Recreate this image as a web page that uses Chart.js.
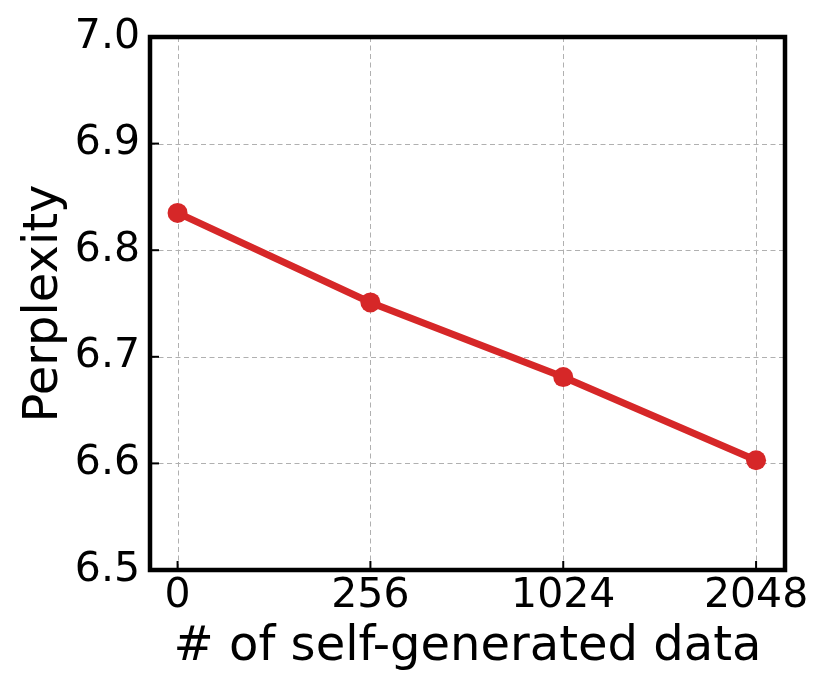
<!DOCTYPE html>
<html>
<head>
<meta charset="utf-8">
<script src="https://cdn.jsdelivr.net/npm/chart.js@4"></script>
<style>
	body { margin: 0; background: #fff; }
	#wrap { width: 830px; height: 692px; }
</style>
</head>
<body>
<div id="wrap"><canvas id="chart" width="830" height="692"></canvas></div>
<script>
const categories = ["0", "256", "1024", "2048"];
const perplexity = [6.835, 6.751, 6.681, 6.603];
const yTicks = [6.5, 6.6, 6.7, 6.8, 6.9, 7.0];

const FONT = "'DejaVu Sans', sans-serif";

// matplotlib-style frame + inward ticks
const framePlugin = {
	id: "frame",
	beforeDatasetsDraw: (chart) => {
		const { ctx, chartArea: a, scales } = chart;
		ctx.save();
		ctx.strokeStyle = "#b0b0b0";
		ctx.lineWidth = 1;
		ctx.setLineDash([5, 3.5]);
		scales.x.ticks.forEach((t) => {
			const px = Math.round(scales.x.getPixelForValue(t.value)) + 0.5;
			ctx.beginPath();
			ctx.moveTo(px, a.top);
			ctx.lineTo(px, a.bottom);
			ctx.stroke();
		});
		scales.y.ticks.forEach((t) => {
			const py = Math.round(scales.y.getPixelForValue(t.value)) + 0.5;
			ctx.beginPath();
			ctx.moveTo(a.left, py);
			ctx.lineTo(a.right, py);
			ctx.stroke();
		});
		ctx.restore();
	},
	afterDraw: (chart) => {
		const { ctx, chartArea: a, scales } = chart;
		ctx.save();
		ctx.strokeStyle = "#000";
		ctx.lineWidth = 2;
		scales.x.ticks.forEach((t) => {
			const px = scales.x.getPixelForValue(t.value);
			ctx.beginPath();
			ctx.moveTo(px, a.bottom);
			ctx.lineTo(px, a.bottom - 9);
			ctx.stroke();
		});
		scales.y.ticks.forEach((t) => {
			const py = scales.y.getPixelForValue(t.value);
			ctx.beginPath();
			ctx.moveTo(a.left, py);
			ctx.lineTo(a.left + 9, py);
			ctx.stroke();
		});
		ctx.lineWidth = 4.5;
		ctx.strokeRect(a.left, a.top, a.right - a.left, a.bottom - a.top);
		ctx.restore();
	},
};

window.onload = () => {
	const canvas = document.getElementById("chart");
	new Chart(canvas, {
		type: "line",
		data: {
			datasets: [
				{
					data: perplexity.map((y, i) => ({ x: i, y })),
					borderColor: "#d62728",
					backgroundColor: "#d62728",
					borderWidth: 7,
					pointRadius: 10,
					pointHoverRadius: 10,
					pointBorderWidth: 0,
				},
			],
		},
		plugins: [framePlugin],
		options: {
			responsive: false,
			animation: false,
			layout: { padding: { top: 37, right: 45, left: 0, bottom: 0 } },
			plugins: { legend: { display: false }, tooltip: { enabled: false } },
			scales: {
				x: {
					type: "linear",
					min: -0.143,
					max: 3.15,
					afterBuildTicks: (scale) => {
						scale.ticks = categories.map((_, i) => ({ value: i }));
					},
					afterFit: (scale) => {
						scale.height = 122;
					},
					ticks: {
						callback: (val) => categories[val],
						font: { family: FONT, size: 41 },
						color: "#000",
						padding: 2,
						maxRotation: 0,
						autoSkip: false,
					},
					grid: { display: false, drawTicks: false },
					border: { display: false },
					title: {
						display: true,
						text: "# of self-generated data",
						font: { family: FONT, size: 48 },
						color: "#000",
						padding: { top: 0, bottom: 16 },
					},
				},
				y: {
					min: 6.5,
					max: 7.0,
					afterBuildTicks: (scale) => {
						scale.ticks = yTicks.map((v) => ({ value: v }));
					},
					afterFit: (scale) => {
						scale.width = 150;
					},
					ticks: {
						callback: (val) => val.toFixed(1),
						font: { family: FONT, size: 41 },
						color: "#000",
						padding: 10,
					},
					grid: { display: false, drawTicks: false },
					border: { display: false },
					title: {
						display: true,
						text: "Perplexity",
						font: { family: FONT, size: 48 },
						color: "#000",
						padding: { top: 16, bottom: 0 },
					},
				},
			},
		},
	});
};
</script>
</body>
</html>
